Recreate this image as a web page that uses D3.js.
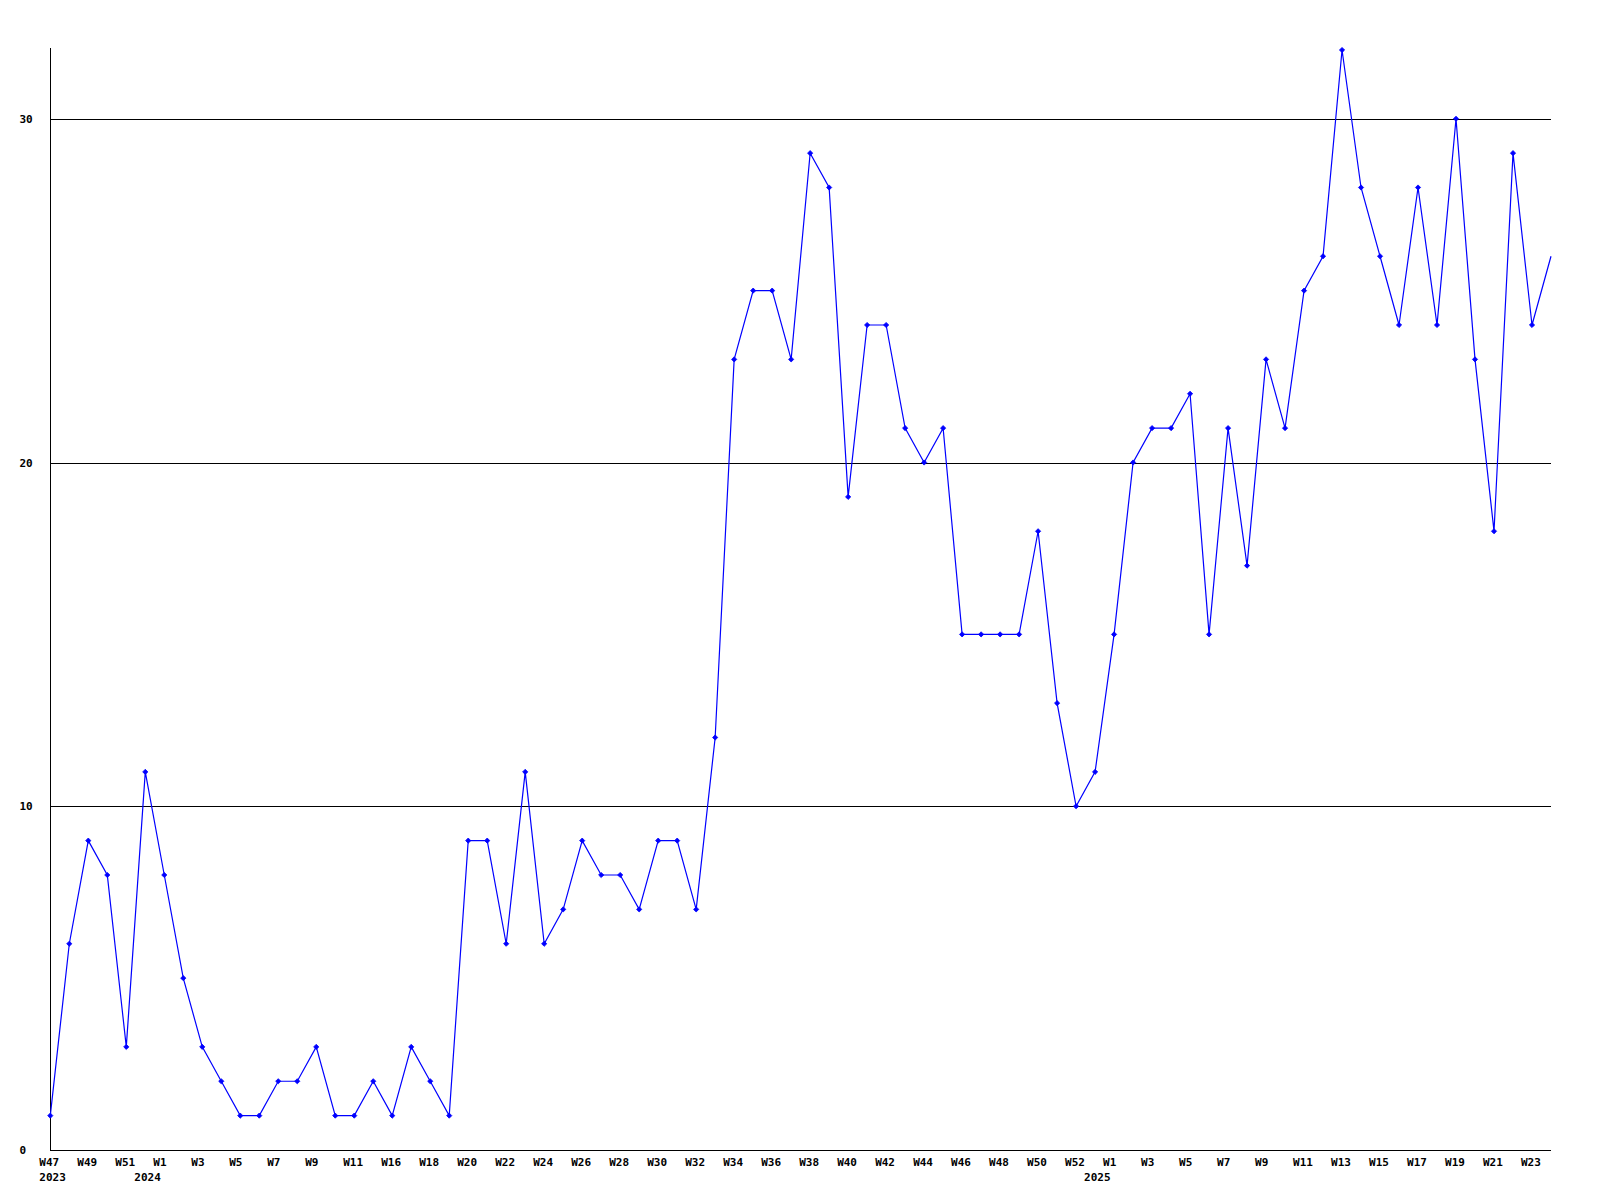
<!DOCTYPE html>
<html>
<head>
<meta charset="utf-8">
<script src="https://cdn.jsdelivr.net/npm/d3@7"></script>
<style>
  html, body { margin: 0; padding: 0; background: #ffffff; }
  svg { display: block; }
  text { font-family: "DejaVu Sans Mono", "Liberation Mono", monospace; font-weight: bold; font-size: 11px; fill: #000; }
</style>
</head>
<body>
<script>
// Week categories (one per data point)
const weeks = [
  "W47","W48","W49","W50","W51","W52",
  "W1","W2","W3","W4","W5","W6","W7","W8","W9","W10","W11","W15",
  "W16","W17","W18","W19","W20","W21","W22","W23","W24","W25","W26","W27","W28","W29","W30","W31","W32","W33",
  "W34","W35","W36","W37","W38","W39","W40","W41","W42","W43","W44","W45","W46","W47","W48","W49","W50","W51","W52",
  "W53","W1","W2","W3","W4","W5","W6","W7","W8","W9","W10","W11","W12","W13","W14","W15","W16","W17","W18","W19","W20","W21","W22","W23","W24"
];
// Year label shown under a category ("" = none)
const yearLabels = weeks.map(() => "");
yearLabels[0] = "2023";
yearLabels[5] = "2024";
yearLabels[55] = "2025";

// Series values
const values = [
  1, 6, 9, 8, 3, 11,
  8, 5, 3, 2, 1, 1, 2, 2, 3, 1, 1, 2,
  1, 3, 2, 1, 9, 9, 6, 11, 6, 7, 9, 8, 8, 7, 9, 9, 7, 12,
  23, 25, 25, 23, 29, 28, 19, 24, 24, 21, 20, 21, 15, 15, 15, 15, 18, 13, 10,
  11, 15, 20, 21, 21, 22, 15, 21, 17, 23, 21, 25, 26, 32, 28, 26, 24, 28, 24, 30, 23, 18, 29, 24, 26
];
const yTicks = [0, 10, 20, 30];
const yGrid = [10, 20, 30];

(function () {
  const W = 1600, H = 1200;
  const mLeft = 50, mRight = 1551, mTop = 50, mBottom = 1150;

  const svg = d3.select("body").append("svg").attr("width", W).attr("height", H);
  svg.append("rect").attr("width", W).attr("height", H).attr("fill", "#fff");

  const x = d3.scaleLinear().domain([0, values.length - 1]).range([mLeft + 0.3, mRight]);
  const y = d3.scaleLinear().domain([0, 32]).range([mBottom, mTop]);

  const snap = v => Math.round(v) + 0.5;

  // horizontal grid lines
  svg.append("g").selectAll("line").data(yGrid).join("line")
    .attr("x1", snap(mLeft)).attr("x2", mRight)
    .attr("y1", d => snap(y(d))).attr("y2", d => snap(y(d)))
    .attr("stroke", "#000").attr("stroke-width", 1).attr("shape-rendering", "crispEdges");

  // axes lines
  svg.append("line").attr("x1", snap(mLeft)).attr("x2", snap(mLeft))
    .attr("y1", mTop - 2).attr("y2", snap(mBottom))
    .attr("stroke", "#000").attr("shape-rendering", "crispEdges");
  svg.append("line").attr("x1", snap(mLeft)).attr("x2", mRight)
    .attr("y1", snap(mBottom)).attr("y2", snap(mBottom))
    .attr("stroke", "#000").attr("shape-rendering", "crispEdges");

  // y labels
  svg.append("g").selectAll("text").data(yTicks).join("text")
    .attr("x", 19.5).attr("y", d => y(d) + 4)
    .attr("text-anchor", "start")
    .text(d => d);

  // x labels (every other category)
  const idx = d3.range(values.length);
  svg.append("g").selectAll("text").data(idx.filter(i => i % 2 === 0)).join("text")
    .attr("x", i => x(i) - 11)
    .attr("y", 1166)
    .attr("text-anchor", "start")
    .text(i => weeks[i]);

  svg.append("g").selectAll("text").data(idx.filter(i => yearLabels[i] !== "")).join("text")
    .attr("x", i => x(i) - 11)
    .attr("y", 1181)
    .attr("text-anchor", "start")
    .text(i => yearLabels[i]);

  // series line
  const line = d3.line().x((d, i) => x(i)).y(d => y(d));
  svg.append("path").datum(values)
    .attr("d", line)
    .attr("fill", "none").attr("stroke", "#0000ff").attr("stroke-width", 1.2);

  // markers (last point sits on the frame edge and is not marked)
  const r = 2.6;
  svg.append("g").selectAll("path").data(values.slice(0, -1)).join("path")
    .attr("d", (d, i) => {
      const cx = x(i), cy = y(d);
      return `M${cx - r},${cy}L${cx},${cy - r}L${cx + r},${cy}L${cx},${cy + r}Z`;
    })
    .attr("fill", "#0000ff").attr("stroke", "#0000ff").attr("stroke-width", 0.8);
})();
</script>
</body>
</html>
